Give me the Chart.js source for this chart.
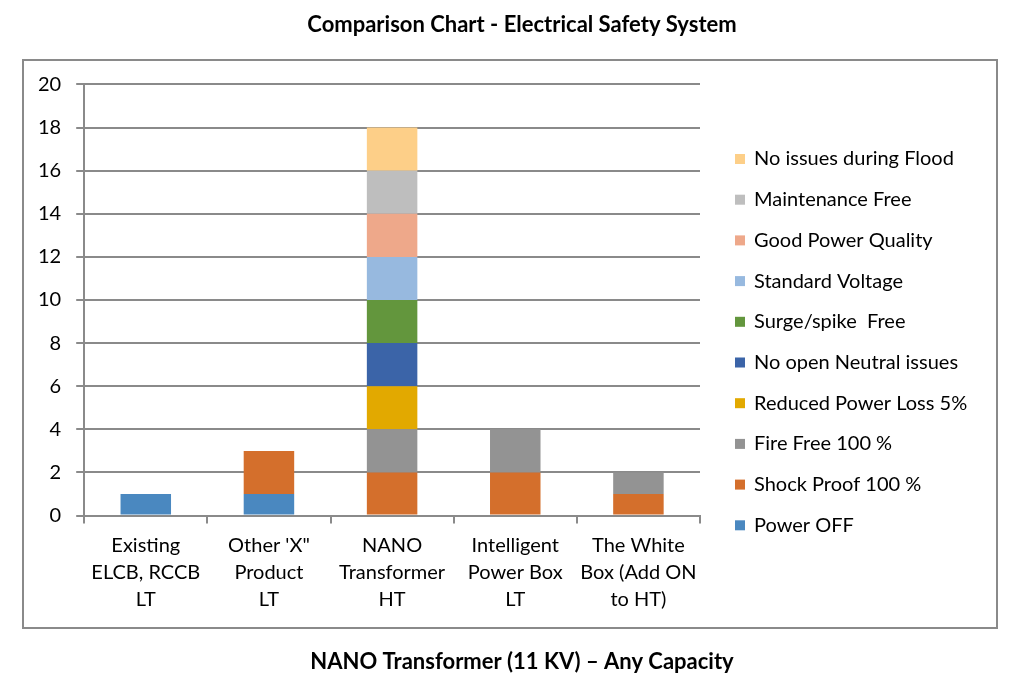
<!DOCTYPE html>
<html>
<head>
<meta charset="utf-8">
<script src="https://cdn.jsdelivr.net/npm/chart.js@4"></script>
<style>
  html, body { margin: 0; padding: 0; background: #ffffff; }
  #wrap { width: 1021px; height: 692px; }
</style>
</head>
<body>
<div id="wrap"><canvas id="chartCanvas" width="1021" height="692"></canvas></div>
<script>
// categorías (eje X)
const categories = [
  ["Existing", "ELCB, RCCB", "LT"],
  ["Other 'X\"", "Product", "LT"],
  ["NANO", "Transformer", "HT"],
  ["Intelligent", "Power Box", "LT"],
  ["The White", "Box (Add ON", "to HT)"]
];

// series (de abajo hacia arriba en la pila)
const powerOff        = [1, 1, 0, 0, 0];
const shockProof      = [0, 2, 2, 2, 1];
const fireFree        = [0, 0, 2, 2, 1];
const reducedLoss     = [0, 0, 2, 0, 0];
const noOpenNeutral   = [0, 0, 2, 0, 0];
const surgeFree       = [0, 0, 2, 0, 0];
const standardVoltage = [0, 0, 2, 0, 0];
const goodQuality     = [0, 0, 2, 0, 0];
const maintenanceFree = [0, 0, 2, 0, 0];
const noFloodIssues   = [0, 0, 2, 0, 0];

const seriesNames = [
  "Power OFF", "Shock Proof 100 %", "Fire Free 100 %", "Reduced Power Loss 5%",
  "No open Neutral issues", "Surge/spike  Free", "Standard Voltage",
  "Good Power Quality", "Maintenance Free", "No issues during Flood"
];
const seriesValues = [
  powerOff, shockProof, fireFree, reducedLoss, noOpenNeutral,
  surgeFree, standardVoltage, goodQuality, maintenanceFree, noFloodIssues
];
const seriesColors = [
  "#4a88c0", "#d46f2c", "#939393", "#e2a900", "#3b64a8",
  "#63963d", "#97b9df", "#eea88a", "#bebebe", "#fdcf88"
];

// eje Y
const yMin = 0, yMax = 20, yStep = 2;

const FONT = "Lato, 'Noto Sans', sans-serif";
const GRID = "#8a8a8a";

// marco gris alrededor del gráfico
const frameBox = {
  id: "frameBox",
  beforeDraw(chart) {
    const c = chart.ctx;
    c.save();
    c.fillStyle = "#ffffff";
    c.fillRect(0, 0, chart.width, chart.height);
    c.strokeStyle = GRID;
    c.lineWidth = 2;
    c.strokeRect(23, 60, 974, 568);
    c.restore();
  }
};

// leyenda lateral (orden inverso, como en Excel), tomada de los datasets
const sideLegend = {
  id: "sideLegend",
  afterDraw(chart, args, opts) {
    const c = chart.ctx;
    const sets = chart.data.datasets;
    c.save();
    c.font = "20px " + FONT;
    c.textBaseline = "middle";
    c.textAlign = "left";
    for (let k = 0; k < sets.length; k++) {
      const ds = sets[sets.length - 1 - k];
      const y = opts.top + k * opts.step;
      c.fillStyle = ds.backgroundColor;
      c.fillRect(opts.x, y - 5, 10, 10);
      c.fillStyle = "#000000";
      c.fillText(ds.label, opts.x + 19, y);
    }
    c.restore();
  }
};

const datasets = seriesNames.map((name, i) => ({
  label: name,
  data: seriesValues[i],
  backgroundColor: seriesColors[i],
  borderWidth: 0,
  barPercentage: 0.41,
  categoryPercentage: 1.0
}));

new Chart(document.getElementById("chartCanvas").getContext("2d"), {
  type: "bar",
  data: { labels: categories, datasets: datasets },
  options: {
    responsive: false,
    animation: false,
    layout: { padding: { left: 23, right: 0, top: 0, bottom: 0 } },
    plugins: {
      title: {
        display: true,
        text: "Comparison Chart - Electrical Safety System",
        color: "#000000",
        font: { family: FONT, size: 22, weight: "bold" },
        padding: { top: 12, bottom: 46 }
      },
      subtitle: {
        display: true,
        position: "bottom",
        text: "NANO Transformer (11 KV) \u2013 Any Capacity",
        color: "#000000",
        font: { family: FONT, size: 22, weight: "bold" },
        padding: { top: 28, bottom: 17 }
      },
      legend: { display: false },
      sideLegend: { x: 735, top: 159, step: 40.7 },
      tooltip: { enabled: false }
    },
    scales: {
      x: {
        stacked: true,
        border: { display: true, color: GRID, width: 2 },
        grid: {
          offset: true,
          drawOnChartArea: false,
          drawTicks: true,
          tickLength: 8,
          color: GRID,
          lineWidth: 2
        },
        ticks: {
          color: "#000000",
          font: { family: FONT, size: 20, lineHeight: 1.35 },
          padding: 8,
          maxRotation: 0,
          autoSkip: false
        },
        // las etiquetas pueden salirse un poco del área, como en el original
        afterFit: s => { s.paddingLeft = 0; s.paddingRight = 0; }
      },
      y: {
        stacked: true,
        min: yMin,
        max: yMax,
        border: { display: true, color: GRID, width: 2 },
        grid: {
          color: GRID,
          lineWidth: 2,
          tickLength: 8
        },
        ticks: {
          stepSize: yStep,
          color: "#000000",
          font: { family: FONT, size: 20 },
          padding: 15
        }
      },
      // eje vacío a la derecha: reserva el sitio de la leyenda
      legendSpace: {
        position: "right",
        display: true,
        grid: { display: false },
        border: { display: false },
        ticks: { display: false },
        afterFit: s => { s.width = 321; }
      }
    }
  },
  plugins: [frameBox, sideLegend]
});
</script>
</body>
</html>
